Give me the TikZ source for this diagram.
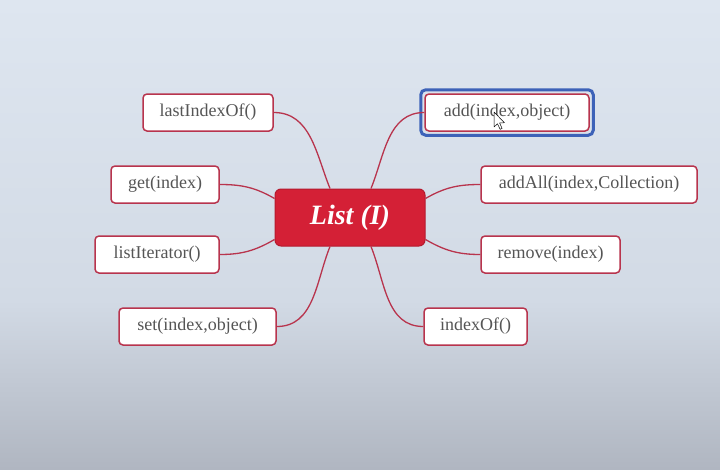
\documentclass[tikz,border=0pt]{standalone}
\usepackage{fontspec}
\setmainfont{Liberation Serif}
\definecolor{bgtop}{HTML}{DEE6F0}
\definecolor{bgmid}{HTML}{D2DAE5}
\definecolor{bgbot}{HTML}{B0B6C1}
\definecolor{edge}{HTML}{B8344D}
\definecolor{central}{HTML}{D42036}
\definecolor{centraledge}{HTML}{B51A2E}
\definecolor{leaftext}{HTML}{555555}
\definecolor{hl}{HTML}{3D62B8}
\tikzset{
  leaf/.style={draw=edge, line width=1.5pt, rounded corners=4pt, fill=white,
    minimum height=37pt, inner sep=0pt, text=leaftext, font=\fontsize{18}{20}\selectfont},
  hub/.style={draw=centraledge, line width=1pt, rounded corners=6pt, fill=central,
    minimum width=150pt, minimum height=57pt, text=white,
    font=\fontsize{28}{32}\selectfont\bfseries\itshape},
  link/.style={draw=edge, line width=1.3pt},
}
\begin{document}
\begin{tikzpicture}[x=1pt,y=1pt]
\useasboundingbox (0,0) rectangle (720,-469);
\shade[top color=bgtop, bottom color=bgmid] (0,0) rectangle (720,-300);
\shade[top color=bgmid, bottom color=bgbot] (0,-300) rectangle (720,-469);

\node[hub] (hub) at (350,-217.5) {List (I)};

\node[leaf, minimum width=130pt] (last) at (208,-112.5) {lastIndexOf()};
\node[leaf, minimum width=108pt] (get) at (165,-184.5) {get(index)};
\node[leaf, minimum width=124pt] (iter) at (157,-254.5) {listIterator()};
\node[leaf, minimum width=157pt] (set) at (197.5,-326.5) {set(index,object)};

\node[leaf, minimum width=164pt] (add) at (507,-112.5) {add(index,object)};
\node[leaf, minimum width=216pt] (addall) at (589,-184.5) {addAll(index,Collection)};
\node[leaf, minimum width=139pt] (remove) at (550.5,-254.5) {remove(index)};
\node[leaf, minimum width=103pt] (indexof) at (475.5,-326.5) {indexOf()};

% highlight around add
\draw[hl, line width=3pt, rounded corners=5pt]
  ([xshift=-3.5pt,yshift=3.5pt]add.north west) rectangle ([xshift=3.5pt,yshift=-3.5pt]add.south east);

% hub attachment points
\coordinate (hTL) at ([xshift=-20pt]hub.north);
\coordinate (hTR) at ([xshift=21pt]hub.north);
\coordinate (hBL) at ([xshift=-20pt]hub.south);
\coordinate (hBR) at ([xshift=21pt]hub.south);
\coordinate (hLU) at ([yshift=19pt]hub.west);
\coordinate (hLD) at ([yshift=-22pt]hub.west);
\coordinate (hRU) at ([yshift=19pt]hub.east);
\coordinate (hRD) at ([yshift=-22pt]hub.east);

\draw[link] (last.east) to[out=0,in=112] (hTL);
\draw[link] (get.east) to[out=0,in=150] (hLU);
\draw[link] (iter.east) to[out=0,in=210] (hLD);
\draw[link] (set.east) to[out=0,in=248] (hBL);
\draw[link] (hTR) to[out=68,in=180] (add.west);
\draw[link] (hRU) to[out=30,in=180] (addall.west);
\draw[link] (hRD) to[out=-30,in=180] (remove.west);
\draw[link] (hBR) to[out=-68,in=180] (indexof.west);

% mouse cursor
\coordinate (cur) at (494,-112);
\draw[black, fill=white, line width=0.5pt, line join=round]
  (cur) -- ++(0,-15) -- ++(3.5,3.2) -- ++(2.6,-5.5) -- ++(2,0.9) -- ++(-2.5,5.4) -- ++(4.8,0.3) -- cycle;
\end{tikzpicture}
\end{document}
